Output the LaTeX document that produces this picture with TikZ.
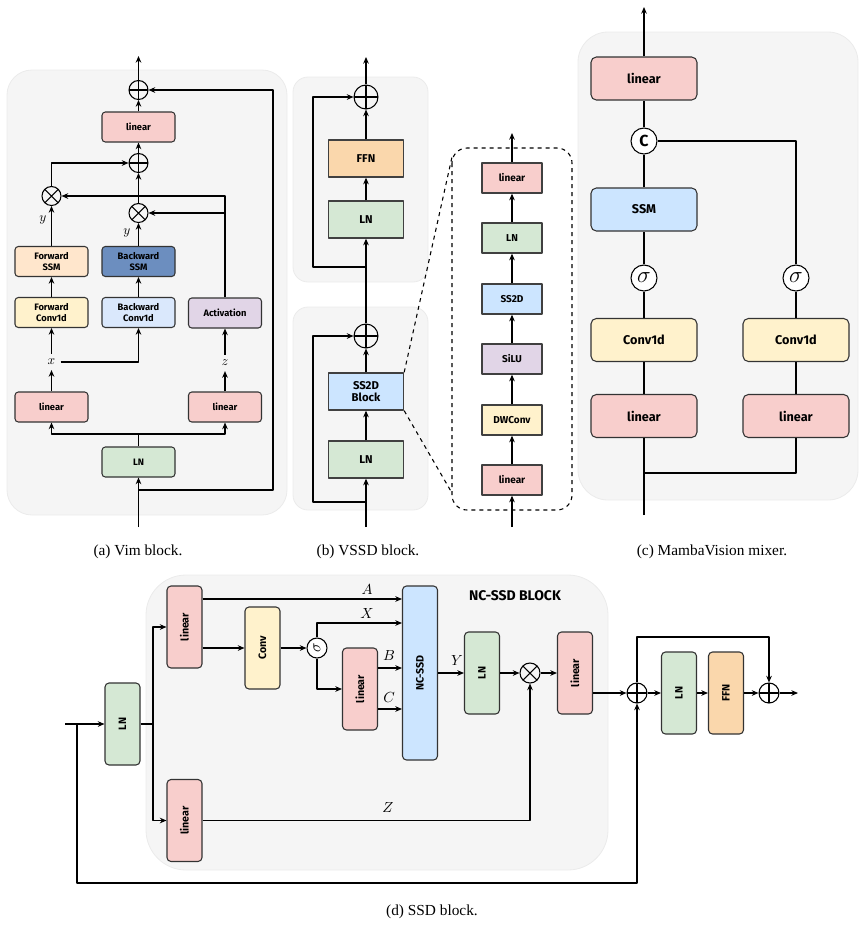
\documentclass[tikz,border=0pt]{standalone}
\usepackage{fontspec}
\setmainfont{Liberation Serif}
\setsansfont{Fira Sans}
\usetikzlibrary{arrows.meta}

\definecolor{linpink}{HTML}{F8CECC}
\definecolor{lngreen}{HTML}{D5E8D4}
\definecolor{ssmorange}{HTML}{FFE6CC}
\definecolor{ssmblue}{HTML}{6C8EBF}
\definecolor{convyellow}{HTML}{FFF2CC}
\definecolor{convblue}{HTML}{DAE8FC}
\definecolor{actpurple}{HTML}{E1D5E7}
\definecolor{ffnorange}{HTML}{FAD7AC}
\definecolor{ssdblue}{HTML}{CCE5FF}
\definecolor{panelgray}{HTML}{F5F5F5}
\definecolor{edgegray}{HTML}{333333}

\newcommand{\pxu}{0.75pt}

\begin{document}
\begin{tikzpicture}[x=0.75pt, y=-0.75pt, line join=round, line width=0.8pt,
    panelbg/.style={fill=panelgray, draw=black!8, line width=0.6pt},
    arr/.style={-{Stealth[length=5pt, width=4.2pt]}},
    blk/.style={draw=edgegray, line width=0.8pt, rounded corners=2.5pt, align=center, inner sep=0pt},
    abox/.style={blk, minimum width=73*\pxu, minimum height=30*\pxu, font=\sffamily\bfseries\fontsize{7}{7.8}\selectfont},
    bbox/.style={blk, rounded corners=0pt, draw=black!75, line width=1pt, minimum width=75*\pxu, minimum height=37*\pxu, font=\sffamily\bfseries\fontsize{8.5}{9.5}\selectfont},
    ibox/.style={bbox, minimum width=60*\pxu, minimum height=30*\pxu, font=\sffamily\bfseries\fontsize{7.5}{8}\selectfont},
    cbox/.style={blk, rounded corners=4pt, minimum width=106*\pxu, minimum height=43*\pxu, font=\sffamily\bfseries\fontsize{9.5}{10}\selectfont},
    dbox/.style={blk, rounded corners=3pt, minimum width=35*\pxu, minimum height=82*\pxu, font=\sffamily\bfseries\fontsize{8}{8.5}\selectfont},
    oplus/.style={circle, draw=black, line width=0.8pt, minimum size=#1*\pxu, inner sep=0pt,
        path picture={\draw[line width=0.8pt] (path picture bounding box.north) -- (path picture bounding box.south)
            (path picture bounding box.west) -- (path picture bounding box.east);}},
    otimes/.style={circle, draw=black, line width=0.8pt, minimum size=#1*\pxu, inner sep=0pt,
        path picture={\draw[line width=0.8pt] (path picture bounding box.north west) -- (path picture bounding box.south east)
            (path picture bounding box.south west) -- (path picture bounding box.north east);}},
    opnode/.style={circle, draw=black, fill=white, line width=0.8pt, minimum size=26*\pxu, inner sep=0pt},
    mlab/.style={inner sep=3.5pt, font=\fontsize{10}{11}\selectfont},
    dlab/.style={inner sep=1pt, font=\fontsize{11}{12}\selectfont},
    caption/.style={font=\fontsize{11.5}{13}\selectfont}]

    \useasboundingbox (0,0) rectangle (865,926);

    % Draw panel backgrounds
    \draw[panelbg, rounded corners=25*\pxu] (7,70) rectangle (287,515);
    \draw[panelbg, rounded corners=15*\pxu] (293,77) rectangle (428,282);
    \draw[panelbg, rounded corners=15*\pxu] (293,307) rectangle (428,510);
    \draw[panelbg, rounded corners=30*\pxu] (578,32) rectangle (858,500);
    \draw[panelbg, rounded corners=40*\pxu] (146,575) rectangle (608,870);

    % (a) Vim block
    \node[abox, fill=linpink] (a-lin) at (138.5,127) {linear};
    \node[oplus=19] (a-add1) at (138.5,90) {};
    \node[oplus=19] (a-add2) at (138.5,163) {};
    \node[otimes=19] (a-mulf) at (51.5,196) {};
    \node[otimes=19] (a-mulb) at (138.5,213) {};
    \node[abox, fill=ssmorange] (a-fssm) at (51.5,261.5) {Forward\\SSM};
    \node[abox, fill=ssmblue] (a-bssm) at (138.5,261.5) {Backward\\SSM};
    \node[abox, fill=convyellow] (a-fconv) at (51.5,312.5) {Forward\\Conv1d};
    \node[abox, fill=convblue] (a-bconv) at (138.5,312.5) {Backward\\Conv1d};
    \node[abox, fill=actpurple] (a-act) at (225,313) {Activation};
    \node[abox, fill=linpink] (a-linl) at (51.5,407) {linear};
    \node[abox, fill=linpink] (a-linr) at (225,407) {linear};
    \node[abox, fill=lngreen] (a-ln) at (138.5,462) {LN};
    \node[mlab] (a-x) at (51.5,362) {$x$};
    \node[mlab] (a-z) at (225,363) {$z$};
    \node[mlab, inner sep=1pt] (a-yf) at (43,220) {$y$};
    \node[mlab, inner sep=1pt] (a-yb) at (127,233) {$y$};
    \coordinate (a-in) at (138.5,527);
    \coordinate (a-top) at (138.5,56);
    \coordinate (a-split) at (138.5,434);
    \coordinate (a-res) at (138.5,490);
    \coordinate (a-resr) at (273,490);

    \draw[arr] (a-in) -- (a-ln);
    \draw (a-ln) -- (a-split);
    \draw[arr] (a-split) -| (a-linl);
    \draw[arr] (a-split) -| (a-linr);
    \draw[arr] (a-linl) -- (a-x);
    \draw[arr] (a-linr) -- (a-z);
    \draw[arr] (a-x) -- (a-fconv);
    \draw[arr] (a-x) -| (a-bconv);
    \draw[arr] (a-z) -- (a-act);
    \draw[arr] (a-fconv) -- (a-fssm);
    \draw[arr] (a-bconv) -- (a-bssm);
    \draw[arr] (a-fssm) -- (a-mulf);
    \draw[arr] (a-bssm) -- (a-mulb);
    \draw[arr] (a-act) |- (a-mulf);
    \draw[arr] (a-act |- a-mulb) -- (a-mulb);
    \draw[arr] (a-mulf) |- (a-add2);
    \draw[arr] (a-mulb) -- (a-add2);
    \draw[arr] (a-add2) -- (a-lin);
    \draw[arr] (a-lin) -- (a-add1);
    \draw[arr] (a-add1) -- (a-top);
    \draw[arr] (a-res) -- (a-resr) |- (a-add1);

    % (b) VSSD block
    \node[oplus=24] (b-add1) at (366,97) {};
    \node[bbox, fill=ffnorange] (b-ffn) at (366,158.5) {FFN};
    \node[bbox, fill=lngreen] (b-ln1) at (366,219.5) {LN};
    \node[oplus=24] (b-add2) at (366,336) {};
    \node[bbox, fill=ssdblue] (b-ss2d) at (366,391.5) {SS2D\\Block};
    \node[bbox, fill=lngreen] (b-ln2) at (366,459.5) {LN};
    \coordinate (b-in) at (366,527);
    \coordinate (b-top) at (366,57);
    \coordinate (b-r1) at (366,267);
    \coordinate (b-r1l) at (313,267);
    \coordinate (b-r2) at (366,502);
    \coordinate (b-r2l) at (313,502);

    \draw[arr] (b-in) -- (b-ln2);
    \draw[arr] (b-ln2) -- (b-ss2d);
    \draw[arr] (b-ss2d) -- (b-add2);
    \draw[arr] (b-add2) -- (b-ln1);
    \draw[arr] (b-ln1) -- (b-ffn);
    \draw[arr] (b-ffn) -- (b-add1);
    \draw[arr] (b-add1) -- (b-top);
    \draw[arr] (b-r1) -- (b-r1l) |- (b-add1);
    \draw[arr] (b-r2) -- (b-r2l) |- (b-add2);

    % Draw the zoomed SS2D block
    \draw[dashed, line width=0.8pt, rounded corners=15*\pxu] (452,148) rectangle (572,510);
    \coordinate (b-zt) at (452,157);
    \coordinate (b-zb) at (452,493);
    \draw[dashed, line width=0.8pt] (b-ss2d.north east) -- (b-zt);
    \draw[dashed, line width=0.8pt] (b-ss2d.south east) -- (b-zb);
    \node[ibox, fill=linpink] (b-i1) at (512,480) {linear};
    \node[ibox, fill=convyellow] (b-i2) at (512,420) {DWConv};
    \node[ibox, fill=actpurple] (b-i3) at (512,359) {SiLU};
    \node[ibox, fill=ssdblue] (b-i4) at (512,299) {SS2D};
    \node[ibox, fill=lngreen] (b-i5) at (512,238) {LN};
    \node[ibox, fill=linpink] (b-i6) at (512,178) {linear};
    \coordinate (b-iin) at (512,527);
    \coordinate (b-itop) at (512,133);
    \draw[arr] (b-iin) -- (b-i1);
    \draw[arr] (b-i1) -- (b-i2);
    \draw[arr] (b-i2) -- (b-i3);
    \draw[arr] (b-i3) -- (b-i4);
    \draw[arr] (b-i4) -- (b-i5);
    \draw[arr] (b-i5) -- (b-i6);
    \draw[arr] (b-i6) -- (b-itop);

    % (c) MambaVision mixer
    \node[cbox, fill=linpink] (c-lin) at (644,78.5) {linear};
    \node[opnode, font=\sffamily\bfseries\fontsize{12}{12}\selectfont] (c-cat) at (644,141) {C};
    \node[cbox, fill=ssdblue] (c-ssm) at (644,209.5) {SSM};
    \node[opnode, font=\fontsize{16}{16}\selectfont] (c-sig1) at (644,278) {$\sigma$};
    \node[cbox, fill=convyellow] (c-conv1) at (644,340) {Conv1d};
    \node[cbox, fill=linpink] (c-lin1) at (644,416) {linear};
    \node[opnode, font=\fontsize{16}{16}\selectfont] (c-sig2) at (796,278) {$\sigma$};
    \node[cbox, fill=convyellow] (c-conv2) at (796,340) {Conv1d};
    \node[cbox, fill=linpink] (c-lin2) at (796,416) {linear};
    \coordinate (c-in) at (644,515);
    \coordinate (c-split) at (644,473);
    \coordinate (c-top) at (644,7);

    \draw (c-in) -- (c-lin1) -- (c-conv1) -- (c-sig1) -- (c-ssm) -- (c-cat) -- (c-lin);
    \draw[arr] (c-lin) -- (c-top);
    \draw (c-split) -| (c-lin2);
    \draw (c-lin2) -- (c-conv2) -- (c-sig2);
    \draw (c-sig2) |- (c-cat);

    % (d) SSD block
    \node[font=\sffamily\bfseries\fontsize{10.5}{11}\selectfont] (d-title) at (515,596) {NC-SSD BLOCK};
    \node[dbox, fill=lngreen] (d-ln) at (122.5,724) {\rotatebox{90}{LN}};
    \node[dbox, fill=linpink] (d-lin1) at (184.5,627) {\rotatebox{90}{linear}};
    \node[dbox, fill=linpink] (d-lin3) at (184.5,820.5) {\rotatebox{90}{linear}};
    \node[dbox, fill=convyellow] (d-conv) at (262.5,648) {\rotatebox{90}{Conv}};
    \node[opnode, minimum size=20*\pxu, font=\fontsize{13}{13}\selectfont] (d-sig) at (317,648) {\rotatebox{90}{$\sigma$}};
    \node[dbox, fill=linpink] (d-lin2) at (360,689) {\rotatebox{90}{linear}};
    \node[dbox, fill=ssdblue, minimum height=174*\pxu] (d-nc) at (420,673) {\rotatebox{90}{NC-SSD}};
    \node[dbox, fill=lngreen] (d-ln2) at (482,673) {\rotatebox{90}{LN}};
    \node[otimes=20] (d-mul) at (530,673) {};
    \node[dbox, fill=linpink] (d-lin4) at (575,673) {\rotatebox{90}{linear}};
    \node[oplus=20] (d-add1) at (637,693) {};
    \node[dbox, fill=lngreen] (d-ln3) at (679,693) {\rotatebox{90}{LN}};
    \node[dbox, fill=ffnorange] (d-ffn) at (726,693) {\rotatebox{90}{FFN}};
    \node[oplus=20] (d-add2) at (769,693) {};
    \node[dlab] (d-la) at (367,590) {$A$};
    \node[dlab] (d-lx) at (367,614) {$X$};
    \node[dlab] (d-lb) at (389,656) {$B$};
    \node[dlab] (d-lc) at (389,698) {$C$};
    \node[dlab] (d-ly) at (457,661) {$Y$};
    \node[dlab] (d-lz) at (388,808) {$Z$};
    \coordinate (d-in) at (65,724);
    \coordinate (d-res0) at (77,724);
    \coordinate (d-res1) at (77,883);
    \coordinate (d-split) at (153,724);
    \coordinate (d-yA) at (0,599);
    \coordinate (d-yX) at (0,623);
    \coordinate (d-yB) at (0,668);
    \coordinate (d-yC) at (0,709);
    \coordinate (d-skip) at (637,637);
    \coordinate (d-out) at (798,693);

    \draw[arr] (d-in) -- (d-ln);
    \draw[arr] (d-res0) -- (d-res1) -| (d-add1);
    \draw (d-ln) -- (d-split);
    \draw[arr] (d-split) |- (d-lin1);
    \draw[arr] (d-split) |- (d-lin3);
    \draw[arr] (d-lin1.east |- d-yA) -- (d-nc.west |- d-yA);
    \draw[arr] (d-lin1.east |- d-conv) -- (d-conv);
    \draw[arr] (d-conv) -- (d-sig);
    \draw[arr] (d-sig) |- (d-nc.west |- d-yX);
    \draw[arr] (d-sig) |- (d-lin2);
    \draw[arr] (d-lin2.east |- d-yB) -- (d-nc.west |- d-yB);
    \draw[arr] (d-lin2.east |- d-yC) -- (d-nc.west |- d-yC);
    \draw[arr] (d-nc) -- (d-ln2);
    \draw[arr] (d-ln2) -- (d-mul);
    \draw[arr] (d-mul) -- (d-lin4);
    \draw[arr] (d-lin3) -| (d-mul);
    \draw[arr] (d-lin4.east |- d-add1) -- (d-add1);
    \draw[arr] (d-add1) -- (d-ln3);
    \draw[arr] (d-ln3) -- (d-ffn);
    \draw[arr] (d-ffn) -- (d-add2);
    \draw[arr] (d-add2) -- (d-out);
    \draw[arr] (d-add1) -- (d-skip) -| (d-add2);

    % Captions
    \node[caption] (cap-a) at (138,552) {(a) Vim block.};
    \node[caption] (cap-b) at (368,552) {(b) VSSD block.};
    \node[caption] (cap-c) at (712,552) {(c) MambaVision mixer.};
    \node[caption] (cap-d) at (432,912) {(d) SSD block.};
\end{tikzpicture}
\end{document}
